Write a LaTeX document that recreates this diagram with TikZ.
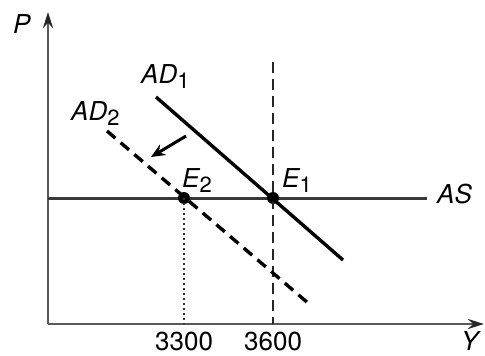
\documentclass[tikz,border=0pt]{standalone}
\usepackage{fontspec}
\setmainfont{TeX Gyre Heros}
\usetikzlibrary{arrows.meta}
\newcommand{\sbs}[1]{\raisebox{-5pt}{\fontsize{22}{22}\selectfont\upshape #1}}
\begin{document}
\begin{tikzpicture}[x=1pt,y=-1pt,
  axis/.style={draw=black!65,line width=2.8pt,-{Stealth[length=16pt,width=10pt,color=black!85]}},
  curve/.style={draw=black,line width=3.4pt},
  dashcurve/.style={curve,dash pattern=on 11pt off 7pt},
  lab/.style={font=\fontsize{26}{26}\selectfont\itshape,inner sep=0pt,anchor=base west,text depth=0pt},
  num/.style={font=\fontsize{26}{26}\selectfont,inner sep=0pt,anchor=base west,text depth=0pt},
  dot/.style={circle,fill=black,inner sep=0pt,minimum size=12pt}]
\useasboundingbox (0,0) rectangle (485,356);
% axes
\coordinate (O) at (48,324);
\coordinate (ytop) at (48,12);
\coordinate (xend) at (484,324);
\draw[axis] (O) -- (ytop);
\draw[axis] (O) -- (xend);
% AS line
\coordinate (ASl) at (48,198);
\coordinate (ASr) at (427,198);
\draw[draw=black!78,line width=3pt] (ASl) -- (ASr);
% points
\node[dot] (E1) at (273,198) {};
\node[dot] (E2) at (184,198) {};
% verticals
\coordinate (vtop) at (273,62);
\coordinate (v1b) at (273,324);
\coordinate (v2b) at (184,324);
\draw[black!85,line width=2.8pt,dash pattern=on 11pt off 6pt] (vtop) -- (v1b);
\draw[black!80,line width=2.2pt,dash pattern=on 2pt off 3pt] (E2.center) -- (v2b);
% AD curves
\coordinate (AD1a) at (156,97);
\coordinate (AD1b) at (343,260);
\coordinate (AD2a) at (107,131);
\coordinate (AD2b) at (308,303);
\draw[curve] (AD1a) -- (AD1b);
\draw[dashcurve] (AD2a) -- (AD2b);
% shift arrow
\coordinate (sa) at (186,136);
\coordinate (sb) at (151,157);
\draw[line width=3pt,-{Stealth[length=14pt,width=12pt]}] (sa) -- (sb);
% labels
\node[lab] (P) at (13,33) {P};
\node[lab] (Y) at (461,350) {Y};
\node[lab] (AS) at (437,203) {AS};
\node[lab] (lAD1) at (141,83) {AD\sbs{1}};
\node[lab] (lAD2) at (71,120) {AD\sbs{2}};
\node[lab] (lE1) at (282,187) {E\sbs{1}};
\node[lab] (lE2) at (182,187) {E\sbs{2}};
\node[num] (n3300) at (155,350) {3300};
\node[num] (n3600) at (244,350) {3600};
\end{tikzpicture}
\end{document}
